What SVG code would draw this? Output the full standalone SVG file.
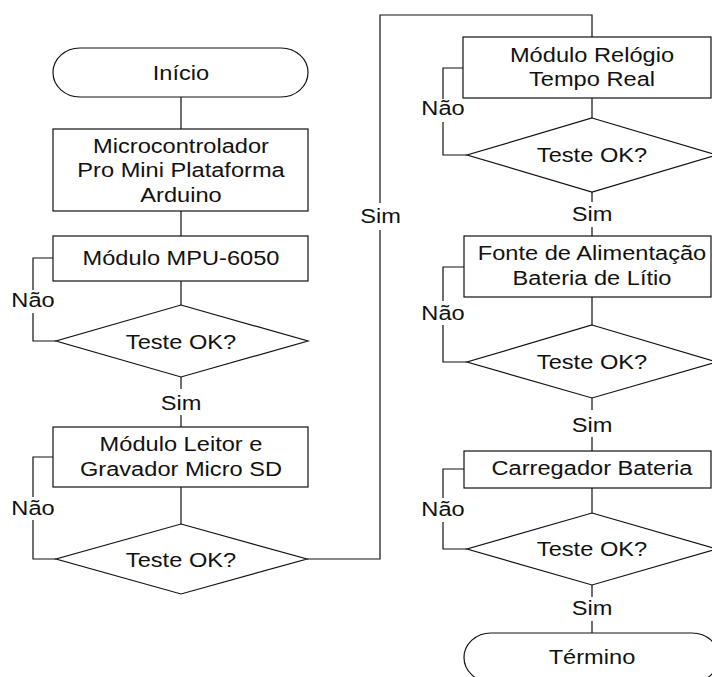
<svg xmlns="http://www.w3.org/2000/svg" width="712" height="677" viewBox="0 0 712 677">
<style>
.s{fill:#fff;stroke:#111;stroke-width:1.2}
.c{fill:none;stroke:#111;stroke-width:1.2}
text{font-family:"Liberation Sans",Arial,sans-serif;font-size:21px;fill:#111;text-anchor:middle}
</style>
<rect width="712" height="677" fill="#fff"/>
<g id="connectors" class="c">
<path d="M181,97V129M181,211V236M181,281V305M181,377V389M181,415V427M181,487V524"/>
<path d="M53,258H33V290M33,313V341H56"/>
<path d="M53,457H33V497M33,520V559H56"/>
<path d="M307,559H380V230M380,203V15H592V37"/>
<path d="M592,98V118M592,192V202M592,227V236M592,297V325M592,398V410M592,437V451M592,488V513M592,585V597M592,621V633"/>
<path d="M463,68H443V99M443,122V155H467"/>
<path d="M464,267H443V301M443,325V362H467"/>
<path d="M464,469H443V498M443,522V549H467"/>
</g>
<g id="inicio"><rect class="s" x="53" y="48" width="255" height="49" rx="27" ry="24.5"/><text transform="translate(181,79.5) scale(1.125,1)">Início</text></g>
<g id="micro"><rect class="s" x="53" y="129" width="255" height="82"/>
<text transform="translate(181,152.5) scale(1.125,1)">Microcontrolador</text>
<text transform="translate(181,177) scale(1.125,1)">Pro Mini Plataforma</text>
<text transform="translate(181,201.5) scale(1.125,1)">Arduino</text></g>
<g id="mpu"><rect class="s" x="53" y="236" width="255" height="45"/><text transform="translate(181,265) scale(1.125,1)">Módulo MPU-6050</text></g>
<g id="teste1"><polygon class="s" points="181,305 308,341 181,377 56,341"/><text transform="translate(181,349) scale(1.125,1)">Teste OK?</text></g>
<g id="leitor"><rect class="s" x="53" y="427" width="255" height="60"/>
<text transform="translate(181,451) scale(1.125,1)">Módulo Leitor e</text>
<text transform="translate(181,476) scale(1.125,1)">Gravador Micro SD</text></g>
<g id="teste2"><polygon class="s" points="181,524 307,559 181,594 56,559"/><text transform="translate(181,566.5) scale(1.125,1)">Teste OK?</text></g>
<g id="relogio"><rect class="s" x="463" y="37" width="248" height="61"/>
<text transform="translate(592,61.5) scale(1.125,1)">Módulo Relógio</text>
<text transform="translate(592,86) scale(1.125,1)">Tempo Real</text></g>
<g id="teste3"><polygon class="s" points="592,118 717,155 592,192 467,155"/><text transform="translate(592,162.3) scale(1.125,1)">Teste OK?</text></g>
<g id="fonte"><rect class="s" x="464" y="236" width="247" height="61"/>
<text transform="translate(592,260) scale(1.125,1)">Fonte de Alimentação</text>
<text transform="translate(592,285) scale(1.125,1)">Bateria de Lítio</text></g>
<g id="teste4"><polygon class="s" points="592,325 717,362 592,398 467,362"/><text transform="translate(592,368.5) scale(1.125,1)">Teste OK?</text></g>
<g id="carregador"><rect class="s" x="464" y="451" width="247" height="37"/><text transform="translate(592,475) scale(1.125,1)">Carregador Bateria</text></g>
<g id="teste5"><polygon class="s" points="592,513 717,549 592,585 467,549"/><text transform="translate(592,556) scale(1.125,1)">Teste OK?</text></g>
<g id="termino"><rect class="s" x="464" y="633" width="255" height="49" rx="27" ry="24.5"/><text transform="translate(592,664) scale(1.125,1)">Término</text></g>
<g id="labels">
<text transform="translate(33,307) scale(1.125,1)">Não</text>
<text transform="translate(181,409.5) scale(1.125,1)">Sim</text>
<text transform="translate(33,515) scale(1.125,1)">Não</text>
<text transform="translate(380.5,223.3) scale(1.125,1)">Sim</text>
<text transform="translate(443,115) scale(1.125,1)">Não</text>
<text transform="translate(592,220.5) scale(1.125,1)">Sim</text>
<text transform="translate(443,320) scale(1.125,1)">Não</text>
<text transform="translate(592,431.5) scale(1.125,1)">Sim</text>
<text transform="translate(443,516) scale(1.125,1)">Não</text>
<text transform="translate(592,615) scale(1.125,1)">Sim</text>
</g>
</svg>
